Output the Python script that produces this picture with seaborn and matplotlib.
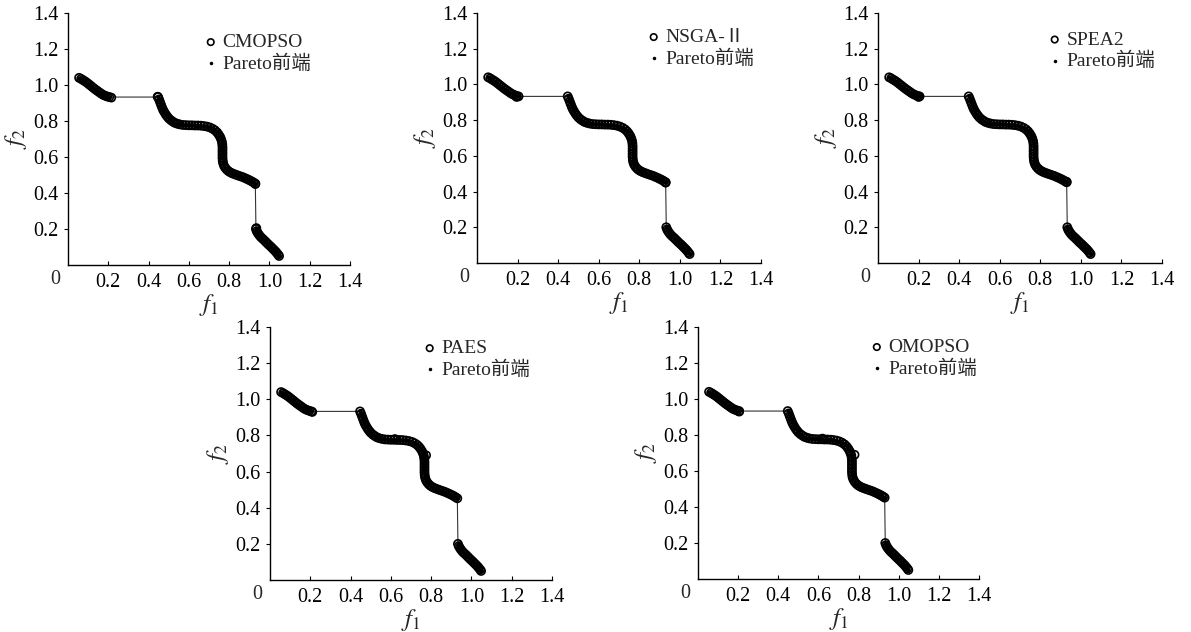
import matplotlib
matplotlib.use("Agg")
import matplotlib.pyplot as plt
import seaborn as sns
import pandas as pd

# Pareto front of the test problem (three disconnected pieces joined by a thin line)
front_f1 = [
    0.055, 0.065, 0.075, 0.085, 0.095, 0.105, 0.115, 0.125, 0.135, 0.145,
    0.155, 0.165, 0.175, 0.185, 0.195, 0.205,
    0.447, 0.452, 0.457, 0.462, 0.467, 0.472, 0.478, 0.485, 0.492, 0.500,
    0.510, 0.520, 0.530, 0.542, 0.555, 0.570, 0.585, 0.600, 0.615, 0.630,
    0.645, 0.660, 0.675, 0.690, 0.705, 0.718, 0.730, 0.740, 0.748, 0.755,
    0.760, 0.764, 0.766, 0.767, 0.767, 0.767, 0.767, 0.767, 0.768, 0.770,
    0.774, 0.780, 0.788, 0.797, 0.807, 0.818, 0.830, 0.842, 0.855, 0.868,
    0.880, 0.892, 0.903, 0.913, 0.922, 0.930,
    0.933, 0.937, 0.942, 0.948, 0.955, 0.963, 0.972, 0.980, 0.988, 0.996,
    1.005, 1.013, 1.021, 1.029, 1.036, 1.043, 1.048,
]
front_f2 = [
    1.040, 1.034, 1.027, 1.020, 1.012, 1.003, 0.994, 0.985, 0.976, 0.968,
    0.960, 0.952, 0.945, 0.940, 0.936, 0.933,
    0.933, 0.920, 0.905, 0.890, 0.875, 0.862, 0.850, 0.837, 0.826, 0.815,
    0.805, 0.797, 0.790, 0.785, 0.781, 0.778, 0.777, 0.776, 0.776, 0.775,
    0.775, 0.774, 0.772, 0.769, 0.764, 0.757, 0.748, 0.737, 0.725, 0.712,
    0.699, 0.685, 0.670, 0.655, 0.640, 0.625, 0.610, 0.595, 0.580, 0.566,
    0.553, 0.541, 0.530, 0.521, 0.514, 0.508, 0.503, 0.498, 0.493, 0.488,
    0.482, 0.476, 0.470, 0.464, 0.458, 0.452,
    0.200, 0.188, 0.178, 0.168, 0.158, 0.149, 0.140, 0.131, 0.122, 0.113,
    0.104, 0.095, 0.086, 0.077, 0.068, 0.058, 0.050,
]

algorithms = ["CMOPSO", "NSGA-II", "SPEA2", "PAES", "OMOPSO"]
legend_labels = ["CMOPSO", "NSGA-\u2161", "SPEA2", "PAES", "OMOPSO"]

# Solutions of each algorithm that sit slightly apart from the dense band
extra_f1 = {
    "CMOPSO": [0.215, 0.445, 0.930, 0.935],
    "NSGA-II": [0.195, 0.930],
    "SPEA2": [0.200, 0.930],
    "PAES": [0.210, 0.620, 0.775],
    "OMOPSO": [0.205, 0.620, 0.780],
}
extra_f2 = {
    "CMOPSO": [0.930, 0.935, 0.450, 0.205],
    "NSGA-II": [0.930, 0.450],
    "SPEA2": [0.930, 0.455],
    "PAES": [0.930, 0.780, 0.690],
    "OMOPSO": [0.930, 0.780, 0.690],
}

ticks = [0.2, 0.4, 0.6, 0.8, 1.0, 1.2, 1.4]
tick_labels = ["0.2", "0.4", "0.6", "0.8", "1.0", "1.2", "1.4"]

sns.set_theme(style="ticks")
plt.rcParams["font.family"] = ["Liberation Serif", "Noto Sans CJK SC"]
plt.rcParams["mathtext.fontset"] = "stix"
plt.rcParams["axes.unicode_minus"] = False

W, H = 1191, 632
fig = plt.figure(figsize=(W / 100, H / 100), dpi=100)

# axes rectangles in pixels: left, top, right, bottom
boxes = [
    (68, 13, 350, 265),
    (477, 13, 761, 263),
    (878, 13, 1162, 263),
    (270, 327, 552, 580),
    (698, 327, 979, 579),
]
# legend anchor (axes fraction) of the first legend marker
legend_pos = [
    (0.514, 0.881),
    (0.630, 0.900),
    (0.630, 0.890),
    (0.574, 0.913),
    (0.644, 0.917),
]

front = pd.DataFrame({"f1": front_f1, "f2": front_f2})

for k, alg in enumerate(algorithms):
    l, t, r, b = boxes[k]
    ax = fig.add_axes([l / W, (H - b) / H, (r - l) / W, (b - t) / H])

    # thin line joining the true front
    sns.lineplot(data=front, x="f1", y="f2", sort=False, estimator=None,
                 color="#333333", lw=0.8, ax=ax, legend=False)

    sol = pd.DataFrame({
        "f1": front_f1 + extra_f1[alg],
        "f2": front_f2 + extra_f2[alg],
    })
    sns.scatterplot(data=sol, x="f1", y="f2", marker="o", s=34,
                    facecolor="none", edgecolor="black", linewidth=1.2,
                    ax=ax, label=legend_labels[k], zorder=3)
    sns.scatterplot(data=front, x="f1", y="f2", marker="o", s=10,
                    color="black", linewidth=0, ax=ax,
                    label="Pareto前端", zorder=4)

    ax.set_xlim(0, 1.4)
    ax.set_ylim(0, 1.4)
    ax.set_xticks(ticks)
    ax.set_xticklabels(tick_labels)
    ax.set_yticks(ticks)
    ax.set_yticklabels(tick_labels)
    ax.tick_params(axis="x", direction="in", length=3, width=0.8,
                   labelsize=14.5, pad=6, colors="black")
    ax.tick_params(axis="y", direction="out", length=3, width=0.8,
                   labelsize=14.5, pad=4, colors="black")
    for s in ["top", "right"]:
        ax.spines[s].set_visible(False)
    for s in ["left", "bottom"]:
        ax.spines[s].set_linewidth(1.0)
        ax.spines[s].set_color("black")

    ax.annotate("0", xy=(0, 0), xycoords="data", xytext=(-9.5, -10.2),
                textcoords="offset points", ha="center", va="center",
                fontsize=14.5)

    ax.set_xlabel("$f_1$", fontsize=18, labelpad=0)
    ax.set_ylabel("$f_2$", fontsize=18, labelpad=3)

    fx, fy = legend_pos[k]
    leg = ax.legend(loc="center left", bbox_to_anchor=(fx - 0.025, fy - 0.04),
                    frameon=False, fontsize=14, handlelength=0.5,
                    handletextpad=0.35, labelspacing=0.15, borderpad=0,
                    borderaxespad=0, markerscale=0.8)

fig.savefig("out.png", dpi=100)
